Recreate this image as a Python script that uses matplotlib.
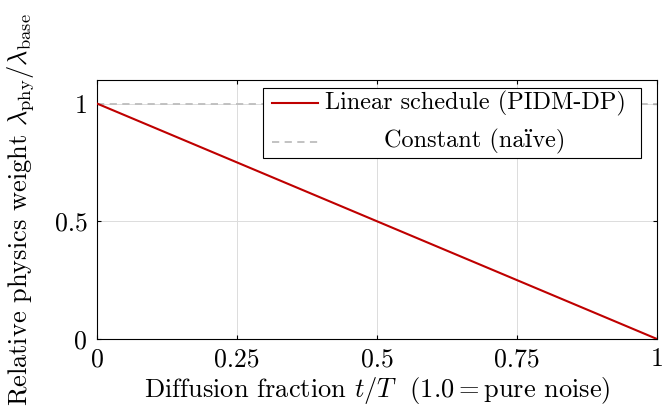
import numpy as np
import matplotlib
matplotlib.use("Agg")
import matplotlib.pyplot as plt
from matplotlib.patches import Rectangle

# Data
t_frac = [0.0, 1.0]
linear_weight = [1.0, 0.0]
const_weight = [1.0, 1.0]
xticks = [0, 0.25, 0.5, 0.75, 1]
xtick_labels = ["0", "0.25", "0.5", "0.75", "1"]
yticks = [0, 0.5, 1]
ytick_labels = ["0", "0.5", "1"]
labels = ["Linear schedule (PIDM-DP)", "Constant (na\u00efve)"]

plt.rcParams['font.family'] = ['cmr10', 'DejaVu Serif']
plt.rcParams['mathtext.fontset'] = 'cm'
plt.rcParams['axes.unicode_minus'] = False
plt.rcParams['axes.formatter.use_mathtext'] = True

FS_TICK = 18.5
FS_LAB = 19
FS_LEG = 17.5

fig = plt.figure(figsize=(6.62, 4.09), dpi=100)
ax = fig.add_axes([97/662, (409-339)/409, (657-97)/662, (339-80)/409])

red = "#bf0000"
gray = "#bdbdbd"
ax.plot(t_frac, const_weight, color=gray, lw=1.3, ls=(0, (4, 3)), zorder=2)
ax.plot(t_frac, linear_weight, color=red, lw=1.5, zorder=3)

ax.set_xlim(0, 1)
ax.set_ylim(0, 1.1)
ax.set_xticks(xticks, xtick_labels)
ax.set_yticks(yticks, ytick_labels)
ax.grid(True, color="#dcdcdc", lw=0.7)
ax.set_axisbelow(True)
ax.tick_params(direction="in", length=3, labelsize=FS_TICK, top=True, right=True)
ax.tick_params(axis="x", pad=6)
ax.tick_params(axis="y", pad=7)
for s in ax.spines.values():
    s.set_linewidth(0.8)

ax.set_xlabel(r"Diffusion fraction $t/T$  (1.0$=$pure noise)", fontsize=FS_LAB, labelpad=3)
ax.set_ylabel(r"Relative physics weight $\lambda_{\mathrm{phy}}/\lambda_{\mathrm{base}}$", fontsize=FS_LAB, labelpad=13)

# Legend (pgfplots-style, centered text)
x0, x1, y0, y1 = 0.296, 0.971, 0.699, 0.969
ax.add_patch(Rectangle((x0, y0), x1 - x0, y1 - y0, transform=ax.transAxes,
                       facecolor="white", edgecolor="black", lw=0.8, zorder=5))
ys = [0.911, 0.761]
ax.plot([0.3125, 0.395], [ys[0], ys[0]], color=red, lw=1.5, transform=ax.transAxes, zorder=6)
ax.plot([0.3125, 0.395], [ys[1], ys[1]], color=gray, lw=1.3, ls=(0, (4, 3)), transform=ax.transAxes, zorder=6)
for y, lab in zip(ys, labels):
    ax.text(0.675, y, lab, transform=ax.transAxes, ha="center", va="center", fontsize=FS_LEG, zorder=6)

fig.savefig("out.png", dpi=100)
